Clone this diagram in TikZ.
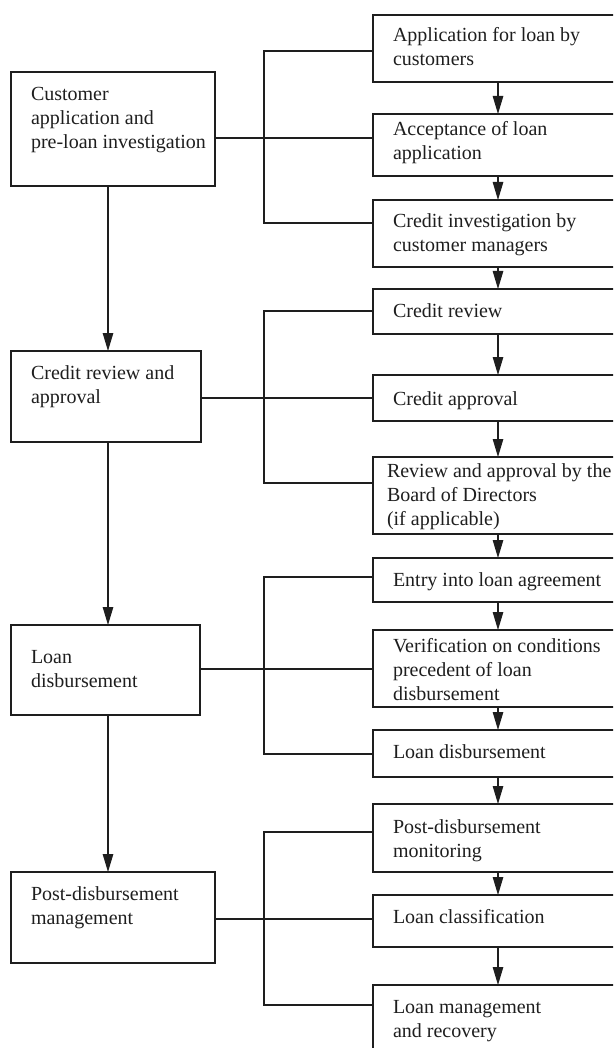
\documentclass[tikz,border=0pt]{standalone}
\usepackage{fontspec}
\setmainfont{Liberation Serif}
\usetikzlibrary{arrows.meta}
\definecolor{ink}{HTML}{1E1E1E}
\begin{document}
\begin{tikzpicture}[x=1pt,y=-1pt,
  box/.style={draw=ink, line width=1.2pt, inner sep=0pt, outer sep=0pt, anchor=north west},
  txt/.style={font=\fontsize{20}{24}\selectfont, align=left, inner sep=0pt, outer sep=0pt, anchor=north west, yshift=16.8pt, text=ink},
  conn/.style={draw=ink, line width=1.1pt},
  arr/.style={conn, -{Triangle[length=18pt,width=10.5pt]}}]
\useasboundingbox (0,0) rectangle (613,1048);
\clip (0,0) rectangle (613,1048);
\newcommand\bx[5]{\node[box, minimum width=#4pt, minimum height=#5pt] (#1) at (#2,#3) {};}
% left boxes
\bx{l1}{11}{72}{204}{114}
\bx{l2}{11}{351}{190}{91}
\bx{l3}{11}{625}{189}{90}
\bx{l4}{11}{872}{204}{91}
% right boxes
\bx{r1}{373}{15}{330}{67}
\bx{r2}{373}{114}{330}{62}
\bx{r3}{373}{200}{330}{67}
\bx{r4}{373}{289}{330}{45}
\bx{r5}{373}{375}{330}{46}
\bx{r6}{373}{457}{330}{77}
\bx{r7}{373}{558}{330}{44}
\bx{r8}{373}{630}{330}{77}
\bx{r9}{373}{730}{330}{47}
\bx{r10}{373}{804}{330}{68}
\bx{r11}{373}{895}{330}{52}
\bx{r12}{373}{985}{330}{120}
% texts
\node[txt] (t1) at (31,101) {\strut Customer\\application and\\pre-loan investigation};
\node[txt] (t2) at (31,379) {\strut Credit review and\\approval};
\node[txt] (t3) at (31,663) {\strut Loan\\disbursement};
\node[txt] (t4) at (31,900) {\strut Post-disbursement\\management};
\node[txt] (s1) at (393,42) {\strut Application for loan by\\customers};
\node[txt] (s2) at (393,136) {\strut Acceptance of loan\\application};
\node[txt] (s3) at (393,228) {\strut Credit investigation by\\customer managers};
\node[txt] (s4) at (393,317) {\strut Credit review};
\node[txt] (s5) at (393,405) {\strut Credit approval};
\node[txt] (s6) at (387,477) {\strut Review and approval by the\\Board of Directors\\(if applicable)};
\node[txt] (s7) at (393,586) {\strut Entry into loan agreement};
\node[txt] (s8) at (393,652) {\strut Verification on conditions\\precedent of loan\\disbursement};
\node[txt] (s9) at (393,758) {\strut Loan disbursement};
\node[txt] (s10) at (393,833) {\strut Post-disbursement\\monitoring};
\node[txt] (s11) at (393,923) {\strut Loan classification};
\node[txt] (s12) at (393,1013) {\strut Loan management\\and recovery};
% bracket coordinates
\coordinate (la) at (108,0);
\coordinate (ra) at (498,0);
\coordinate (b1t) at (264,51);  \coordinate (b1b) at (264,223);  \coordinate (b1m) at (264,138);
\coordinate (b2t) at (264,311); \coordinate (b2b) at (264,483);  \coordinate (b2m) at (264,398);
\coordinate (b3t) at (264,577); \coordinate (b3b) at (264,754);  \coordinate (b3m) at (264,669);
\coordinate (b4t) at (264,832); \coordinate (b4b) at (264,1005); \coordinate (b4m) at (264,919);
% brackets
\draw[conn] (r1.west |- b1t) -- (b1t) -- (b1b) -- (r3.west |- b1b);
\draw[conn] (l1.east |- b1m) -- (r2.west |- b1m);
\draw[conn] (r4.west |- b2t) -- (b2t) -- (b2b) -- (r6.west |- b2b);
\draw[conn] (l2.east |- b2m) -- (r5.west |- b2m);
\draw[conn] (r7.west |- b3t) -- (b3t) -- (b3b) -- (r9.west |- b3b);
\draw[conn] (l3.east |- b3m) -- (r8.west |- b3m);
\draw[conn] (r10.west |- b4t) -- (b4t) -- (b4b) -- (r12.west |- b4b);
\draw[conn] (l4.east |- b4m) -- (r11.west |- b4m);
% left arrows
\draw[arr] (l1.south -| la) -- (l2.north -| la);
\draw[arr] (l2.south -| la) -- (l3.north -| la);
\draw[arr] (l3.south -| la) -- (l4.north -| la);
% right arrows
\foreach \a/\b in {r1/r2,r2/r3,r3/r4,r4/r5,r5/r6,r6/r7,r7/r8,r8/r9,r9/r10,r10/r11,r11/r12}
  \draw[arr] (\a.south -| ra) -- (\b.north -| ra);
\end{tikzpicture}
\end{document}
